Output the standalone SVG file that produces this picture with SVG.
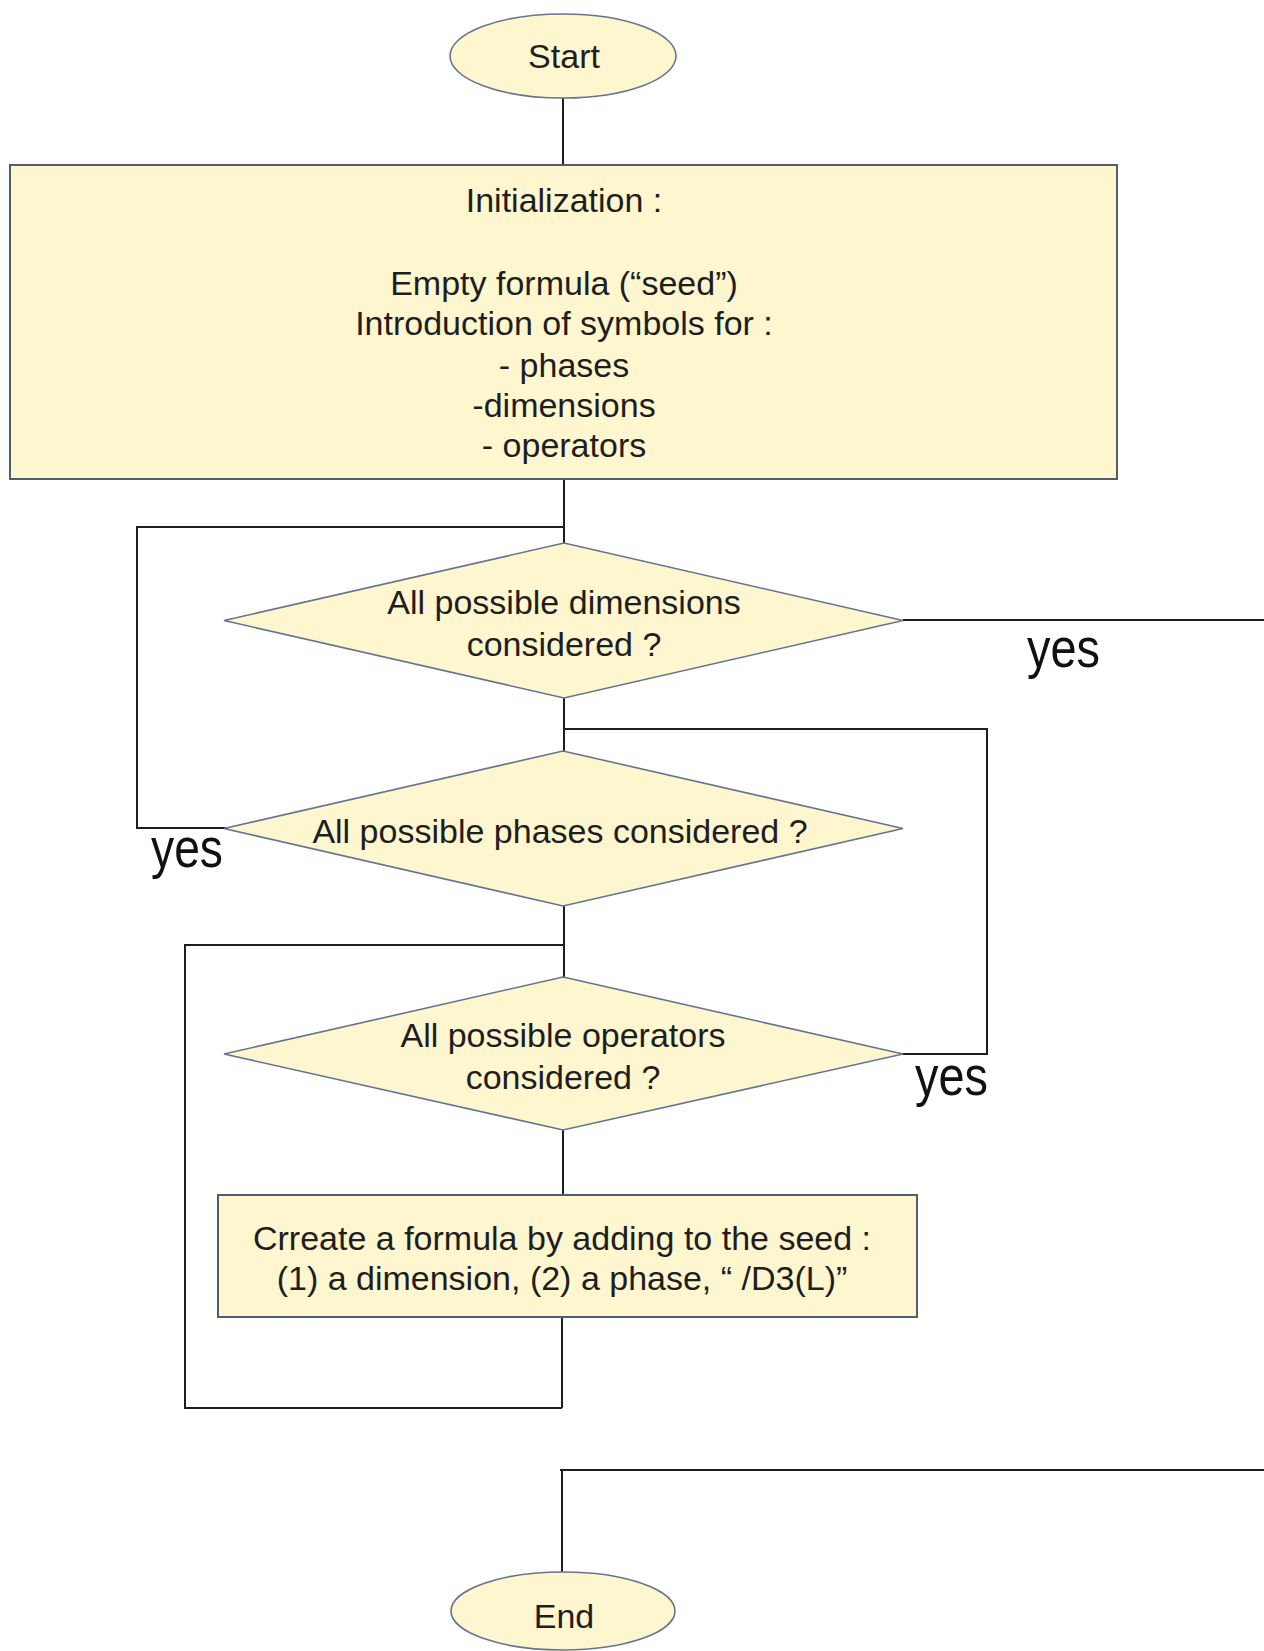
<svg xmlns="http://www.w3.org/2000/svg" width="1264" height="1651" viewBox="0 0 1264 1651">
<style>
.shape{fill:#fdf6cf;stroke:#66758f;stroke-width:1.6}
.box{fill:#fdf6cf;stroke:#555d6b;stroke-width:2}
.t{font-family:"Liberation Sans",Arial,sans-serif;font-size:34px;fill:#1e1e1e;text-anchor:middle}
.yes{font-family:"Liberation Sans",Arial,sans-serif;font-size:56px;fill:#111}
.c{fill:none;stroke:#1e1e1e;stroke-width:2}
</style>
<rect width="1264" height="1651" fill="#ffffff"/>
<g id="connectors">
<path class="c" d="M563 98 V165"/>
<path class="c" d="M564 479 V543"/>
<path class="c" d="M564 698 V751"/>
<path class="c" d="M564 906 V977"/>
<path class="c" d="M563 1130 V1195"/>
<path class="c" d="M562 1310 V1408"/>
<path class="c" d="M226 828 H137 V527 H564"/>
<path class="c" d="M903 1054 H987 V729 H564"/>
<path class="c" d="M562 1408 H185 V945 H564"/>
<path class="c" d="M903 620 H1264"/>
<path class="c" d="M1264 1470 H560 M562 1470 V1573"/>
</g>
<g id="start">
<ellipse class="shape" cx="563" cy="56" rx="113" ry="42"/>
<text class="t" x="564" y="68">Start</text>
</g>
<g id="init">
<rect class="box" x="10" y="165" width="1107" height="314"/>
<text class="t" x="564" y="212">Initialization :</text>
<text class="t" x="564" y="295">Empty formula (“seed”)</text>
<text class="t" x="564" y="335">Introduction of symbols for :</text>
<text class="t" x="564" y="377">- phases</text>
<text class="t" x="564" y="417">-dimensions</text>
<text class="t" x="564" y="457">- operators</text>
</g>
<g id="dimensions">
<polygon class="shape" points="564,543 903,620.5 564,698 224,620.5"/>
<text class="t" x="564" y="614">All possible dimensions</text>
<text class="t" x="564" y="656">considered ?</text>
</g>
<g id="phases">
<polygon class="shape" points="563,751 903,828.5 563,906 224,828.5"/>
<text class="t" x="560" y="843">All possible phases considered ?</text>
</g>
<g id="operators">
<polygon class="shape" points="563,977 903,1054 563,1130 224,1054"/>
<text class="t" x="563" y="1047">All possible operators</text>
<text class="t" x="563" y="1089">considered ?</text>
</g>
<g id="create">
<rect class="box" x="218" y="1195" width="699" height="122"/>
<text class="t" x="562" y="1250">Crreate a formula by adding to the seed :</text>
<text class="t" x="562" y="1290"> (1) a dimension, (2) a phase, “ /D3(L)”</text>
</g>
<g id="end">
<ellipse class="shape" cx="563" cy="1611" rx="112" ry="39"/>
<text class="t" x="564" y="1628">End</text>
</g>
<g id="labels">
<text class="yes" x="1027" y="667" textLength="73" lengthAdjust="spacingAndGlyphs">yes</text>
<text class="yes" x="151" y="867" textLength="72" lengthAdjust="spacingAndGlyphs">yes</text>
<text class="yes" x="915" y="1095" textLength="73" lengthAdjust="spacingAndGlyphs">yes</text>
</g>
</svg>
